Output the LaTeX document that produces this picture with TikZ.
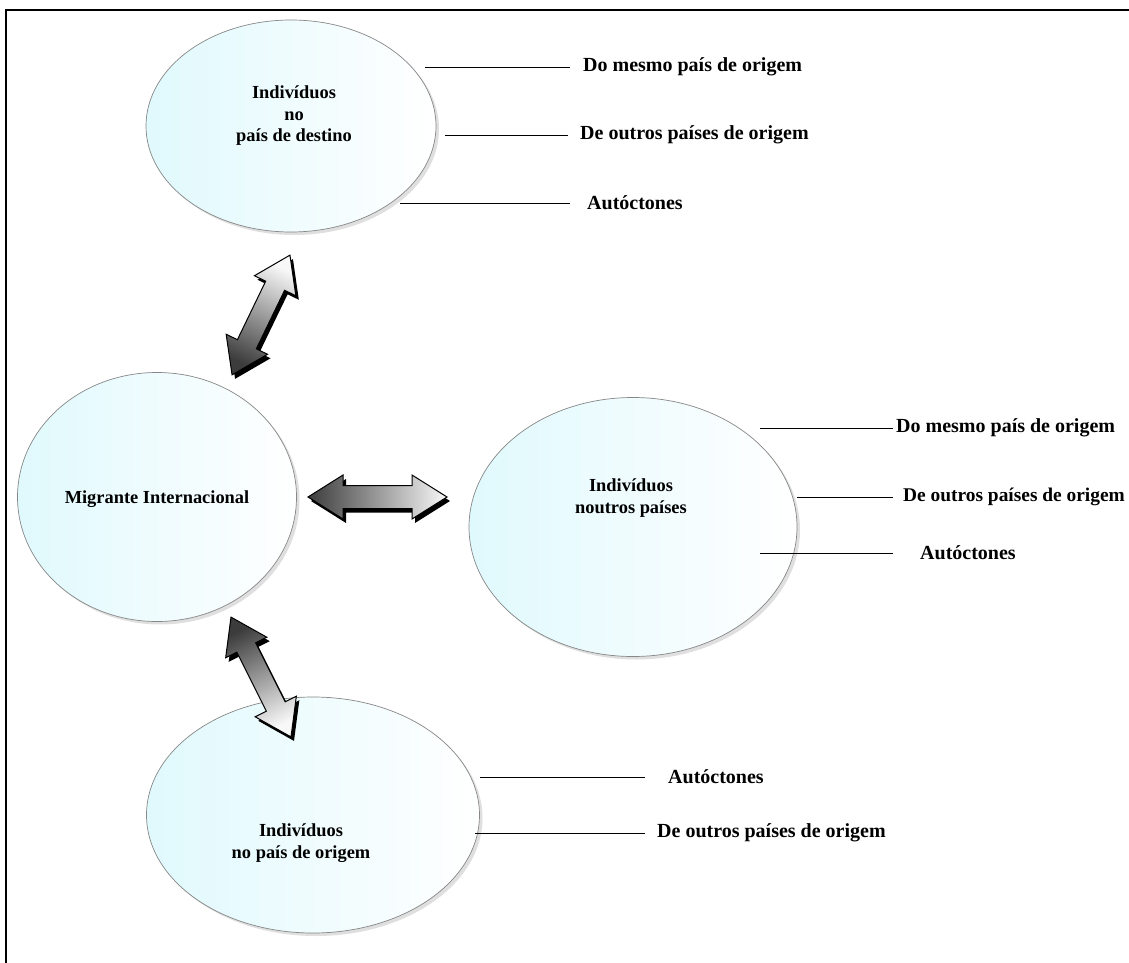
\documentclass[tikz,border=0pt]{standalone}
\usepackage{fontspec}
\setmainfont{Liberation Serif}
\usetikzlibrary{shapes.geometric,shadows}
\definecolor{ellfill}{RGB}{224,249,253}
\definecolor{ellline}{RGB}{135,135,135}
\definecolor{arrdark}{RGB}{60,60,60}
\definecolor{arrlight}{RGB}{248,248,248}
\newcommand\arrowpoly[4]{(-#1/2,0) -- (-#1/2+#4,#2) -- (-#1/2+#4,#3) -- (#1/2-#4,#3) -- (#1/2-#4,#2) -- (#1/2,0)
        -- (#1/2-#4,-#2) -- (#1/2-#4,-#3) -- (-#1/2+#4,-#3) -- (-#1/2+#4,-#2) -- cycle}
\newcommand\twoway[7]{% #1 centre, #2 angle, #3 length, #4 head half width, #5 shaft half width, #6 shading angle, #7 head length
  \begin{scope}[shift={(3,4)}]
    \begin{scope}[shift={#1}, rotate=#2]
      \fill[black] \arrowpoly{#3}{#4}{#5}{#7};
    \end{scope}
  \end{scope}
  \begin{scope}[shift={#1}, rotate=#2]
    \shade[top color=arrlight, bottom color=arrdark, shading angle=#6, draw=black, line width=1pt, line join=miter]
      \arrowpoly{#3}{#4}{#5}{#7};
  \end{scope}}
\begin{document}
\begin{tikzpicture}[x=1pt,y=-1pt,
  ell/.style={ellipse, draw=ellline, line width=0.7pt, inner sep=0pt,
    left color=ellfill, right color=white,
    drop shadow={shadow xshift=3pt, shadow yshift=-3pt, opacity=0.25, fill=gray}},
  etxt/.style={align=center, font=\bfseries\fontsize{18.4}{21.5}\selectfont, inner sep=0pt},
  lab/.style={anchor=west, inner sep=0pt, font=\bfseries\fontsize{20}{22}\selectfont},
  tie/.style={draw=black, line width=0.9pt}]
\useasboundingbox (0,0) rectangle (1129,963);
\fill[white] (0,0) rectangle (1129,963);
\draw[line width=1.5pt] (6,963) -- (6,10) -- (1129,10);

% ellipses
\node[ell, minimum width=290pt, minimum height=212pt] (dest) at (291,126) {};
\node[etxt] (destt) at (294,116) {Indivíduos\\no\\país de destino};
\node[ell, minimum width=279pt, minimum height=249pt] (mig) at (157,497) {};
\node[etxt] (migt) at (157,499) {Migrante Internacional};
\node[ell, minimum width=328pt, minimum height=259pt] (neu) at (633,527) {};
\node[etxt] (neut) at (631,498) {Indivíduos\\noutros países};
\node[ell, minimum width=333pt, minimum height=236pt] (ori) at (313,815) {};
\node[etxt] (orit) at (301,843) {Indivíduos\\no país de origem};

% arrows
\twoway{(261,315)}{64.2}{133}{23}{10.5}{-25.8}{34}
\twoway{(377.5,497)}{0}{139}{22}{11.5}{-90}{35}
\twoway{(261,677)}{-63.4}{134}{23}{10.5}{-153.4}{34}

% labels of destination
\coordinate (d1) at (425,67);
\coordinate (d2) at (445,135);
\coordinate (d3) at (400,203);
\node[lab] (dl1) at (583,67) {Do mesmo país de origem};
\node[lab] (dl2) at (580,135) {De outros países de origem};
\node[lab] (dl3) at (587,203) {Autóctones};
\draw[tie, shorten >=13pt] (d1) -- (dl1.west);
\draw[tie, shorten >=12pt] (d2) -- (dl2.west);
\draw[tie, shorten >=17pt] (d3) -- (dl3.west);

% labels of other countries
\coordinate (n1) at (760,428);
\coordinate (n2) at (797,497);
\coordinate (n3) at (760,553);
\node[lab] (nl1) at (896,428) {Do mesmo país de origem};
\node[lab, font=\bfseries\fontsize{19.4}{22}\selectfont] (nl2) at (903,497) {De outros países de origem};
\node[lab] (nl3) at (920,553) {Autóctones};
\draw[tie, shorten >=3pt] (n1) -- (nl1.west);
\draw[tie, shorten >=10pt] (n2) -- (nl2.west);
\draw[tie, shorten >=27pt] (n3) -- (nl3.west);

% labels of origin
\coordinate (o1) at (480,777);
\coordinate (o2) at (475,833);
\node[lab] (ol1) at (668,777) {Autóctones};
\node[lab] (ol2) at (657,833) {De outros países de origem};
\draw[tie, shorten >=23pt] (o1) -- (ol1.west);
\draw[tie, shorten >=12pt] (o2) -- (ol2.west);
\end{tikzpicture}
\end{document}
